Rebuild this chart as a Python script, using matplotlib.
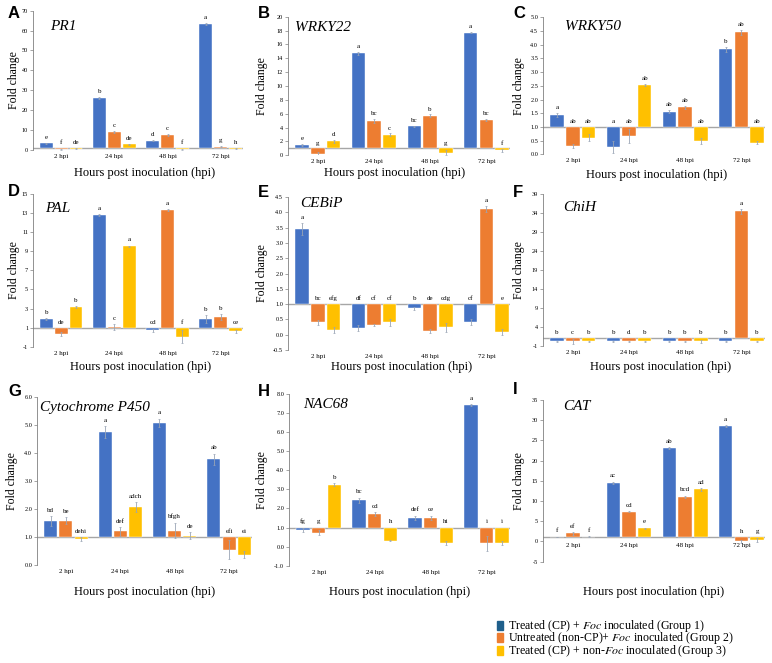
import numpy as np
import matplotlib
matplotlib.use("Agg")
import matplotlib.pyplot as plt
from matplotlib.patches import Rectangle

plt.rcParams['font.family'] = ['Liberation Serif', 'DejaVu Serif']
plt.rcParams['mathtext.fontset'] = 'stix'

hours = ['2 hpi', '24 hpi', '48 hpi', '72 hpi']
group_names = [r'Treated (CP) + $\mathit{Foc}$ inoculated (Group 1)',
               r'Untreated (non-CP)+ $\mathit{Foc}$ inoculated (Group 2)',
               r'Treated (CP) + non-$\mathit{Foc}$ inoculated (Group 3)']
colors = ['#4472C4', '#ED7D31', '#FFC000']
legend_colors = ['#1F5F8B', '#ED7D31', '#FFC000']

# fold change values, rows = groups 1..3, cols = 2/24/48/72 hpi
pr1_vals = [[3.3, 26.0, 4.7, 63.3], [0.4, 9.2, 7.5, 1.7], [0.6, 2.8, 0.4, 0.7]]
pr1_err = [[0.3, 0.5, 0.4, 0.5], [0.2, 0.5, 0.4, 0.4], [0.3, 0.4, 0.3, 0.2]]
pr1_sig = [['e', 'b', 'd', 'a'], ['f', 'c', 'c', 'g'], ['de', 'de', 'f', 'h']]

wrky22_vals = [[1.5, 14.7, 4.2, 17.7], [0.2, 5.0, 5.7, 5.1], [2.0, 3.0, 0.4, 0.7]]
wrky22_err = [[0.2, 0.2, 0.1, 0.1], [0.3, 0.3, 0.2, 0.15], [0.2, 0.15, 0.3, 0.2]]
wrky22_sig = [['e', 'a', 'bc', 'a'], ['g', 'bc', 'b', 'bc'], ['d', 'c', 'g', 'f']]

wrky50_vals = [[1.44, 0.28, 1.56, 3.83], [0.30, 0.67, 1.71, 4.45], [0.61, 2.53, 0.50, 0.43]]
wrky50_err = [[0.08, 0.22, 0.05, 0.1], [0.06, 0.25, 0.06, 0.09], [0.13, 0.04, 0.11, 0.04]]
wrky50_sig = [['a', 'a', 'ab', 'b'], ['ab', 'ab', 'ab', 'ab'], ['ab', 'ab', 'ab', 'ab']]

pal_vals = [[1.87, 12.8, 0.7, 1.87], [0.3, 1.05, 13.35, 2.15], [3.2, 9.5, 0.05, 0.6]]
pal_err = [[0.1, 0.1, 0.2, 0.4], [0.2, 0.3, 0.1, 0.3], [0.1, 0.1, 0.7, 0.15]]
pal_sig = [['b', 'a', 'cd', 'b'], ['de', 'c', 'a', 'b'], ['b', 'a', 'f', 'ce']]

cebip_vals = [[3.45, 0.21, 0.87, 0.42], [0.40, 0.32, 0.13, 4.10], [0.16, 0.40, 0.24, 0.09]]
cebip_err = [[0.2, 0.1, 0.05, 0.1], [0.07, 0.03, 0.07, 0.1], [0.1, 0.1, 0.15, 0.1]]
cebip_sig = [['a', 'df', 'b', 'cf'], ['bc', 'cf', 'de', 'a'], ['efg', 'cf', 'cdg', 'e']]

chih_vals = [[0.2, 0.2, 0.2, 0.2], [0.2, 0.2, 0.2, 34.5], [0.2, 0.2, 0.2, 0.2]]
chih_err = [[0.2, 0.1, 0.1, 0.1], [0.6, 0.2, 0.2, 0.6], [0.1, 0.1, 0.3, 0.1]]
chih_sig = [['b', 'b', 'b', 'b'], ['c', 'd', 'b', 'a'], ['b', 'b', 'b', 'b']]

p450_vals = [[1.58, 4.75, 5.07, 3.78], [1.58, 1.20, 1.23, 0.55], [0.93, 2.07, 1.05, 0.37]]
p450_err = [[0.17, 0.2, 0.15, 0.2], [0.12, 0.15, 0.28, 0.33], [0.08, 0.18, 0.12, 0.12]]
p450_sig = [['bd', 'a', 'a', 'ab'], ['be', 'def', 'bfgh', 'efi'], ['dehi', 'adch', 'de', 'ei']]

nac68_vals = [[0.86, 2.42, 1.49, 7.40], [0.74, 1.70, 1.52, 0.18], [3.24, 0.30, 0.21, 0.18]]
nac68_err = [[0.1, 0.15, 0.12, 0.05], [0.15, 0.1, 0.1, 0.4], [0.08, 0.03, 0.1, 0.1]]
nac68_sig = [['fg', 'bc', 'def', 'a'], ['g', 'cd', 'ce', 'i'], ['b', 'h', 'hi', 'i']]

cat_vals = [[1.1, 14.5, 23.2, 28.5], [2.0, 7.4, 11.05, 0.05], [1.2, 3.25, 12.9, 0.4]]
cat_err = [[0.1, 0.3, 0.2, 0.2], [0.3, 0.2, 0.3, 0.4], [0.1, 0.2, 0.3, 0.5]]
cat_sig = [['f', 'ac', 'ab', 'a'], ['ef', 'cd', 'bcd', 'h'], ['f', 'e', 'ad', 'g']]

# layout in pixels: left, right, top, bottom of each axes
panels = [
    ('A', 'PR1', pr1_vals, pr1_err, pr1_sig, (0, 70), np.arange(0, 71, 10), '%d',
     (33, 243, 10.7, 150), (0.08, 0.885), (0.53, -0.122), -0.062),
    ('B', 'WRKY22', wrky22_vals, wrky22_err, wrky22_sig, (0, 20), np.arange(0, 21, 2), '%d',
     (288, 510, 16.7, 155.3), (0.03, 0.925), (0.48, -0.084), -0.09),
    ('C', 'WRKY50', wrky50_vals, wrky50_err, wrky50_sig, (0, 5), np.arange(0, 5.01, 0.5), '%.1f',
     (543, 765, 17.3, 154.3), (0.10, 0.93), (0.51, -0.107), -0.081),
    ('D', 'PAL', pal_vals, pal_err, pal_sig, (-1, 15), np.arange(-1, 16, 2), '%d',
     (33, 243, 194, 346.7), (0.057, 0.908), (0.51, -0.094), -0.062),
    ('E', 'CEBiP', cebip_vals, cebip_err, cebip_sig, (-0.5, 4.5), np.arange(-0.5, 4.51, 0.5), '%.1f',
     (288, 510, 197, 350), (0.054, 0.96), (0.51, -0.072), -0.09),
    ('F', 'ChiH', chih_vals, chih_err, chih_sig, (-1, 39), np.arange(-1, 40, 5), '%d',
     (543, 765, 194.3, 346), (0.09, 0.91), (0.53, -0.099), -0.081),
    ('G', 'Cytochrome P450', p450_vals, p450_err, p450_sig, (0, 6), np.arange(0, 6.01, 1), '%.1f',
     (37, 252, 397, 565), (0.014, 0.94), (0.5, -0.125), -0.089),
    ('H', 'NAC68', nac68_vals, nac68_err, nac68_sig, (-1, 8), np.arange(-1, 8.01, 1), '%.1f',
     (289, 510, 394, 565.7), (0.063, 0.936), (0.5, -0.118), -0.095),
    ('I', 'CAT', cat_vals, cat_err, cat_sig, (-5, 35), np.arange(-5, 36, 5), '%d',
     (543, 765, 400, 561.7), (0.09, 0.957), (0.5, -0.150), -0.081),
]

W, H = 772, 663
fig = plt.figure(figsize=(W / 100, H / 100), dpi=100)

x = np.arange(4)
width = 0.24
offsets = [-0.28, 0, 0.28]

for letter, gene, vals, errs, sigs, ylim, yticks, fmt, box, gpos, xlpos, ylx in panels:
    l, r, t, b = box
    ax = fig.add_axes([l / W, 1 - b / H, (r - l) / W, (b - t) / H])
    span = ylim[1] - ylim[0]
    for g in range(3):
        v = np.array(vals[g])
        e = np.array(errs[g])
        ax.bar(x + offsets[g], v - 1, bottom=1, width=width, color=colors[g],
               edgecolor='white', linewidth=0.3, zorder=2)
        ax.errorbar(x + offsets[g], v, yerr=e, fmt='none', ecolor='#9aa5b5',
                    elinewidth=0.6, capsize=1, capthick=0.5, zorder=3)
        for i in range(4):
            top = max(v[i] + e[i], 1) if v[i] >= 1 else 1
            ax.text(x[i] + offsets[g], top + 0.02 * span, sigs[g][i],
                    ha='center', va='bottom', fontsize=5)
    ax.axhline(1, color='#a6a6a6', lw=1, zorder=1)
    ax.set_xlim(-0.53, 3.42)
    ax.set_ylim(*ylim)
    ax.set_yticks(yticks)
    ax.set_yticklabels([fmt % t_ for t_ in yticks])
    ax.tick_params(axis='y', labelsize=4.5, length=2, width=0.5, color='#808080', pad=1.5)
    for s in ['top', 'right', 'bottom']:
        ax.spines[s].set_visible(False)
    ax.spines['left'].set_color('#808080')
    ax.spines['left'].set_linewidth(0.6)
    if letter == 'I':
        ax.set_xticks([])
        for i in range(4):
            ax.text(x[i], -0.3, hours[i], ha='center', va='top', fontsize=5)
    else:
        ax.set_xticks(x)
        ax.set_xticklabels(hours)
        ax.tick_params(axis='x', labelsize=5, length=0, pad=3)
    ax.set_ylabel('Fold change', fontsize=8.5)
    ax.yaxis.set_label_coords(ylx, 0.5)
    ax.set_xlabel('Hours post inoculation (hpi)', fontsize=9)
    ax.xaxis.set_label_coords(xlpos[0], xlpos[1])
    ax.text(gpos[0], gpos[1], gene, transform=ax.transAxes, fontsize=11,
            style='italic', ha='left', va='center')

# panel letters
letter_pos = {'A': (8, 14), 'B': (258, 14), 'C': (513, 14),
              'D': (8, 191), 'E': (258, 192), 'F': (513, 192),
              'G': (8, 391), 'H': (258, 392), 'I': (513, 390)}
for k, (px, py) in letter_pos.items():
    fig.text(px / W, 1 - py / H, k, fontsize=12, fontweight='bold',
             family='Liberation Sans', ha='left', va='center')

# legend, drawn by hand to keep the tight line spacing
for i, (name, c) in enumerate(zip(group_names, legend_colors)):
    yc = 625 + 12.6 * i
    fig.add_artist(Rectangle((497 / W, 1 - (yc + 4.5) / H), 6 / W, 9 / H,
                             color=c, transform=fig.transFigure))
    fig.text(508 / W, 1 - (yc + 3.5) / H, name, fontsize=8.6, ha='left', va='baseline')

fig.savefig('out.png', dpi=100)
